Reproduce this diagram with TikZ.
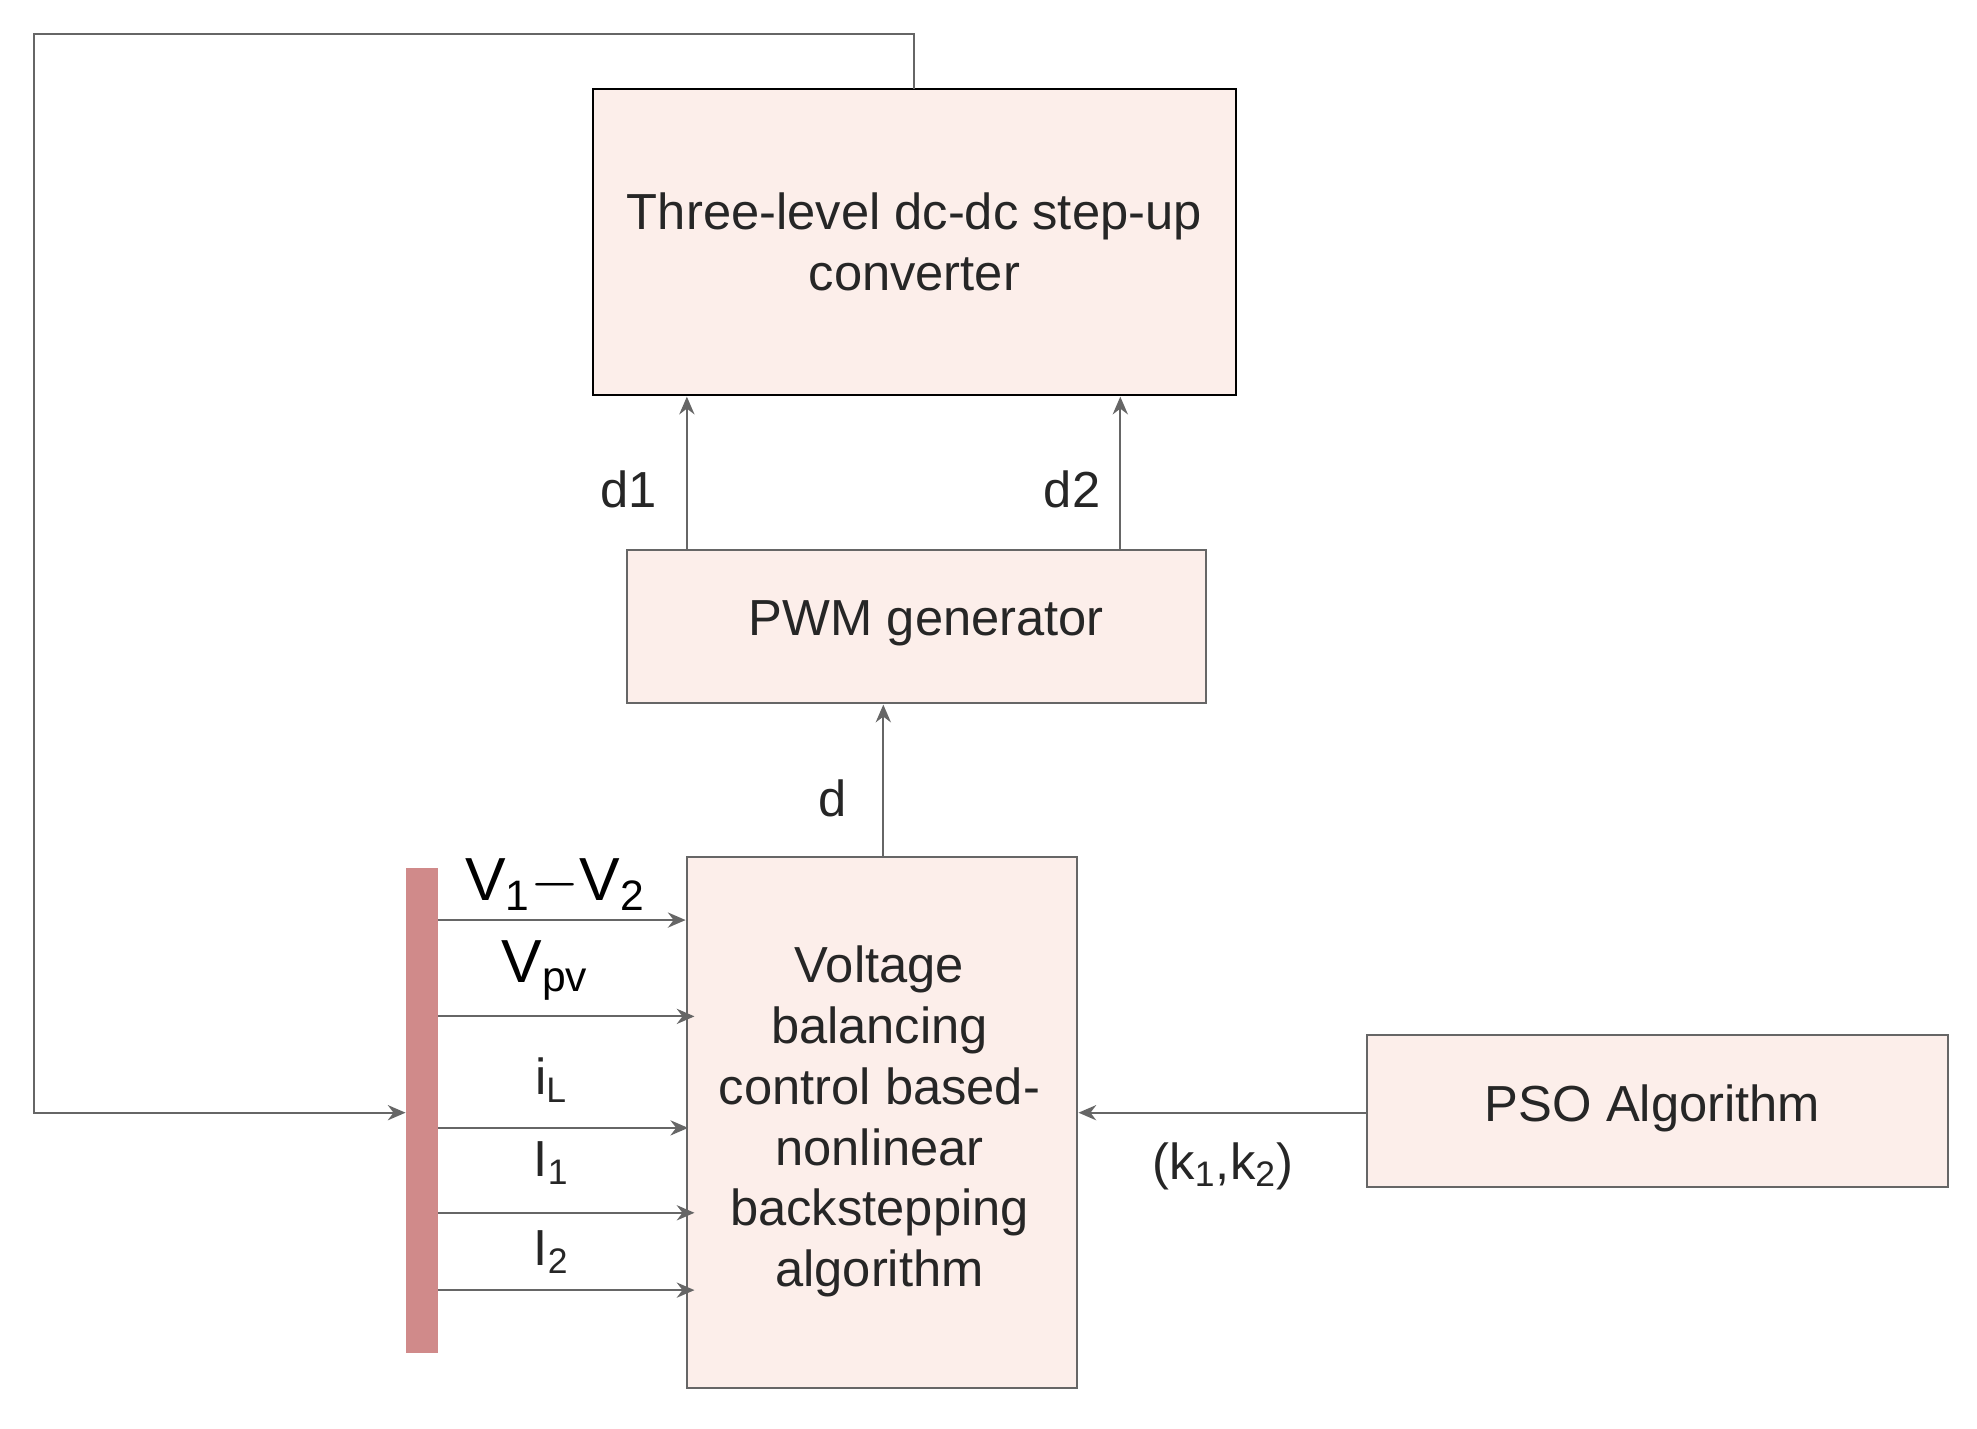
\documentclass[tikz,border=0pt]{standalone}
\usepackage{fontspec}
\setmainfont{Liberation Sans}
\usetikzlibrary{arrows.meta}
\definecolor{boxfill}{HTML}{FCEEEA}
\definecolor{barfill}{HTML}{D08A8A}
\definecolor{ln}{HTML}{666666}
\begin{document}
\begin{tikzpicture}[x=0.5pt,y=-0.5pt,
  box/.style={draw=ln,fill=boxfill,line width=0.8pt},
  arr/.style={draw=ln,line width=0.8pt,-{Stealth[length=7pt,width=6pt]}},
  ln/.style={draw=ln,line width=0.8pt},
  lbl/.style={font=\fontsize{20}{24}\selectfont,text=black!85}]
\useasboundingbox (0,0) rectangle (1560,1127);
\draw[box,draw=black] (468,70) rectangle (975,312);
\node[lbl,align=center] (conv) at (721.5,191) {Three-level dc-dc step-up\\converter};
\draw[box] (495,434) rectangle (952,555);
\node[lbl] (pwm) at (731,492) {PWM generator};
\draw[box] (542,676) rectangle (850,1095);
\node[lbl,align=center] (ctl) at (694,885) {Voltage\\balancing\\control based-\\nonlinear\\backstepping\\algorithm};
\draw[box] (1079,817) rectangle (1537,937);
\node[lbl] (pso) at (1304,875) {PSO Algorithm};
\fill[barfill] (320,685) rectangle (346,1068);
\coordinate (t1) at (721,70); \coordinate (c1) at (721,27); \coordinate (c2) at (27,27);
\coordinate (c3) at (27,878); \coordinate (b) at (320,878);
\draw[arr] (t1) -- (c1) -- (c2) -- (c3) -- (b);
\draw[arr] (542,434) -- (542,313);
\draw[arr] (884,434) -- (884,313);
\draw[arr] (697,676) -- (697,556);
\draw[arr] (1079,878) -- (851,878);
\foreach \y/\e in {726/541,802/548,890/543,957/548,1018/548}{
  \draw[arr] (346,\y) -- (\e,\y);}
\node[lbl] (ld1) at (496,386) {d1};
\node[lbl] (ld2) at (846,386) {d2};
\node[lbl] (ld) at (657,630) {d};
\node[lbl] (lk) at (965,920) {(k\textsubscript{1},k\textsubscript{2})};
\node[font=\fontsize{24}{28}\selectfont] (lv) at (438,698) {V\textsubscript{1}$-$V\textsubscript{2}};
\node[font=\fontsize{24}{28}\selectfont] (lpv) at (430,766) {V\textsubscript{pv}};
\node[lbl] (lil) at (435,852) {i\textsubscript{L}};
\node[lbl] (li1) at (435,918) {I\textsubscript{1}};
\node[lbl] (li2) at (435,988) {I\textsubscript{2}};
\end{tikzpicture}
\end{document}
